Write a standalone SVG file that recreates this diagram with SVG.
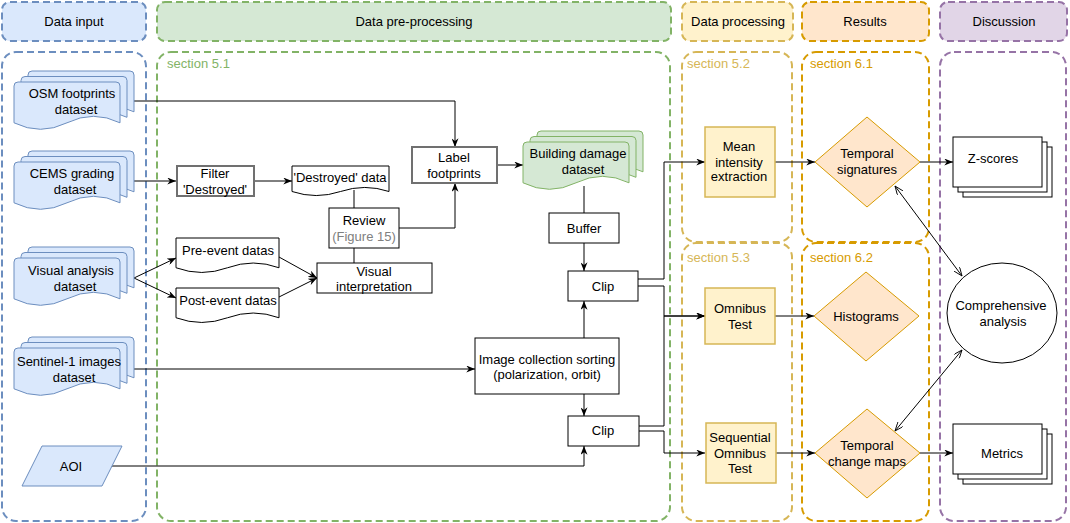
<svg xmlns="http://www.w3.org/2000/svg" xmlns:xlink="http://www.w3.org/1999/xlink" width="1070" height="523" viewBox="0 0 1070 523">
<style>
text{font-family:"Liberation Sans",Arial,sans-serif;font-size:13px;fill:#000;text-anchor:middle}
.sec{text-anchor:start}
.hdr{stroke-width:2;stroke-dasharray:7 4}
.cnt{fill:none;stroke-width:2;stroke-dasharray:7 4}
.box{fill:#fff;stroke:#000;stroke-width:1}
.gbox{fill:#fff;stroke:#707070;stroke-width:2}
.proc{fill:#fff2cc;stroke:#d6b656;stroke-width:1.5}
.dia{fill:#ffe6cc;stroke:#d79b00;stroke-width:1}
.blue{fill:#dae8fc;stroke:#6c8ebf;stroke-width:1}
.green{fill:#d5e8d4;stroke:#82b366;stroke-width:1}
.ln{fill:none;stroke:#000;stroke-width:1}
.arr{marker-end:url(#a)}
.bi{marker-start:url(#o);marker-end:url(#o)}
</style>
<defs>
<marker id="a" viewBox="0 0 10 8" refX="10" refY="4" markerWidth="9" markerHeight="7" markerUnits="userSpaceOnUse" orient="auto"><path d="M0,0 L10,4 L0,8 L3,4 Z" fill="#000"/></marker>
<marker id="o" viewBox="0 0 10 8" refX="10" refY="4" markerWidth="9" markerHeight="7" markerUnits="userSpaceOnUse" orient="auto-start-reverse"><path d="M0,0 L10,4 L0,8" fill="none" stroke="#000" stroke-width="1"/></marker>
<g id="mdoc">
<path d="M14,4 Q14,0 18,0 H116 Q120,0 120,4 V40.8 Q93.5,27.8 67,40.8 Q40.5,53.8 14,40.8 Z"/>
<path d="M7,9.5 Q7,5.5 11,5.5 H109 Q113,5.5 113,9.5 V46.3 Q86.5,33.3 60,46.3 Q33.5,59.3 7,46.3 Z"/>
<path d="M0,15 Q0,11 4,11 H102 Q106,11 106,15 V51.8 Q79.5,38.8 53,51.8 Q26.5,64.8 0,51.8 Z"/>
</g>
<g id="stack">
<rect x="10" y="10" width="89" height="50"/>
<rect x="5" y="5" width="89" height="50"/>
<rect x="0" y="0" width="89" height="50"/>
</g>
</defs>

<g id="headers">
<rect x="2" y="2" width="144" height="39" rx="8" class="hdr" fill="#dae8fc" stroke="#6c8ebf"/>
<text x="74" y="26">Data input</text>
<rect x="157" y="2" width="514" height="39" rx="8" class="hdr" fill="#d5e8d4" stroke="#82b366"/>
<text x="414" y="26">Data pre-processing</text>
<rect x="682" y="2" width="111" height="39" rx="8" class="hdr" fill="#fff2cc" stroke="#d6b656"/>
<text x="738" y="26">Data processing</text>
<rect x="802" y="2" width="127" height="39" rx="8" class="hdr" fill="#ffe6cc" stroke="#d79b00"/>
<text x="865" y="26">Results</text>
<rect x="940" y="2" width="127" height="39" rx="8" class="hdr" fill="#e1d5e7" stroke="#9673a6"/>
<text x="1004" y="26">Discussion</text>
</g>

<g id="containers">
<rect x="2" y="52" width="144" height="469" rx="14" class="cnt" stroke="#6c8ebf"/>
<rect x="157" y="52" width="513" height="469" rx="14" class="cnt" stroke="#82b366"/>
<text x="167" y="68" class="sec" style="fill:#82b366">section 5.1</text>
<rect x="682" y="52" width="110" height="190" rx="14" class="cnt" stroke="#d6b656"/>
<text x="687" y="68" class="sec" style="fill:#d6b656">section 5.2</text>
<rect x="682" y="243" width="110" height="278" rx="14" class="cnt" stroke="#d6b656"/>
<text x="687" y="262" class="sec" style="fill:#d6b656">section 5.3</text>
<rect x="802" y="52" width="127" height="190" rx="14" class="cnt" stroke="#d79b00"/>
<text x="810" y="68" class="sec" style="fill:#d79b00">section 6.1</text>
<rect x="802" y="243" width="127" height="278" rx="14" class="cnt" stroke="#d79b00"/>
<text x="810" y="262" class="sec" style="fill:#d79b00">section 6.2</text>
<rect x="940" y="52" width="126" height="469" rx="14" class="cnt" stroke="#9673a6"/>
</g>

<g id="connectors">
<path class="ln arr" d="M134,101 H455 V147"/>
<path class="ln arr" d="M134,181 H176"/>
<path class="ln arr" d="M254,181 H292"/>
<path class="ln" d="M354,190 V208"/>
<path class="ln" d="M354,248 V263"/>
<path class="ln arr" d="M399,228 H455 V183"/>
<path class="ln arr" d="M134,278 L176,258"/>
<path class="ln arr" d="M134,278 L176,298"/>
<path class="ln arr" d="M279,257 L317,278"/>
<path class="ln arr" d="M279,297 L317,278"/>
<path class="ln arr" d="M497,165 H523"/>
<path class="ln" d="M584,186 V213"/>
<path class="ln arr" d="M584,243 V271"/>
<path class="ln arr" d="M584,338 V301"/>
<path class="ln arr" d="M584,394 V416"/>
<path class="ln arr" d="M134,369 H475"/>
<path class="ln arr" d="M111,466 H584 V446"/>
<path class="ln arr" d="M638,279 H664 V162 H705"/>
<path class="ln arr" d="M638,286 H664 V316 H705"/>
<path class="ln arr" d="M639,426 H664 V316 H705"/>
<path class="ln arr" d="M639,431 H664 V453 H705"/>
<path class="ln arr" d="M775,162 H815"/>
<path class="ln arr" d="M775,316 H814"/>
<path class="ln arr" d="M776,453 H815"/>
<path class="ln arr" d="M920,162 H953"/>
<path class="ln arr" d="M920,453 H953"/>
<path class="ln bi" d="M895,186 L962,276"/>
<path class="ln bi" d="M962,350 L895,431"/>
</g>

<g id="osm"><use xlink:href="#mdoc" href="#mdoc" class="blue" transform="translate(14,71)"/><text x="72" y="98">OSM footprints</text><text x="76" y="114">dataset</text></g>
<g id="cems"><use xlink:href="#mdoc" href="#mdoc" class="blue" transform="translate(14,151)"/><text x="72" y="178">CEMS grading</text><text x="75" y="194">dataset</text></g>
<g id="visual"><use xlink:href="#mdoc" href="#mdoc" class="blue" transform="translate(14,247)"/><text x="71" y="275">Visual analysis</text><text x="75" y="291">dataset</text></g>
<g id="sentinel"><use xlink:href="#mdoc" href="#mdoc" class="blue" transform="translate(14,337)"/><text x="69" y="366">Sentinel-1 images</text><text x="74" y="382">dataset</text></g>
<g id="aoi"><polygon points="42,446 122,446 102,486 22,486" class="blue"/><text x="71" y="471">AOI</text></g>

<g id="filter"><rect x="177" y="166" width="77" height="30" class="gbox"/><text x="215" y="178">Filter</text><text x="215" y="194">'Destroyed'</text></g>
<g id="destroyed"><path d="M292,166 H389 V191.5 Q364.75,183.4 340.5,191.5 Q316.25,199.6 292,191.5 Z" class="box"/><text x="340" y="182">'Destroyed' data</text></g>
<g id="review"><rect x="329" y="208" width="70" height="40" class="box"/><text x="364" y="225">Review</text><text x="364" y="241" style="fill:#808080">(Figure 15)</text></g>
<g id="vi"><rect x="317" y="263" width="115" height="30" class="box"/><text x="374" y="276">Visual</text><text x="374" y="291">interpretation</text></g>
<g id="pre"><path d="M176,238 H279 V267.75 Q253.25,258.3 227.5,267.75 Q201.75,277.2 176,267.75 Z" class="box"/><text x="228" y="255">Pre-event datas</text></g>
<g id="post"><path d="M176,288 H279 V317.75 Q253.25,308.3 227.5,317.75 Q201.75,327.2 176,317.75 Z" class="box"/><text x="228" y="305">Post-event datas</text></g>
<g id="label"><rect x="412" y="147" width="85" height="36" class="gbox"/><text x="454" y="162">Label</text><text x="454" y="178">footprints</text></g>
<g id="building"><use xlink:href="#mdoc" href="#mdoc" class="green" transform="translate(523,131)"/><text x="578" y="158">Building damage</text><text x="583" y="174">dataset</text></g>
<g id="buffer"><rect x="549" y="213" width="70" height="30" class="box"/><text x="584" y="233">Buffer</text></g>
<g id="clip1"><rect x="568" y="271" width="70" height="30" class="box"/><text x="603" y="291">Clip</text></g>
<g id="ics"><rect x="475" y="338" width="144" height="56" class="box"/><text x="547" y="364">Image collection sorting</text><text x="547" y="379">(polarization, orbit)</text></g>
<g id="clip2"><rect x="568" y="416" width="71" height="30" class="box"/><text x="603" y="435">Clip</text></g>

<g id="mean"><rect x="705" y="127" width="70" height="70" class="proc"/><text x="739" y="151">Mean</text><text x="739" y="167">intensity</text><text x="739" y="181">extraction</text></g>
<g id="omnibus"><rect x="705" y="288" width="70" height="56" class="proc"/><text x="740" y="313">Omnibus</text><text x="740" y="329">Test</text></g>
<g id="seq"><rect x="706" y="423" width="70" height="60" class="proc"/><text x="740" y="442">Sequential</text><text x="740" y="458">Omnibus</text><text x="740" y="473">Test</text></g>

<g id="tsig"><polygon points="867,117 920,162 867,207 815,162" class="dia"/><text x="867" y="158">Temporal</text><text x="867" y="174">signatures</text></g>
<g id="hist"><polygon points="866,272 919,316 866,361 814,316" class="dia"/><text x="866" y="321">Histograms</text></g>
<g id="tcm"><polygon points="867,409 920,453 867,498 815,453" class="dia"/><text x="867" y="450">Temporal</text><text x="867" y="466">change maps</text></g>

<g id="zscores"><use xlink:href="#stack" href="#stack" class="box" transform="translate(953,137)"/><text x="993" y="163">Z-scores</text></g>
<g id="comp"><ellipse cx="1002" cy="313" rx="55" ry="50" class="box"/><text x="1001" y="310">Comprehensive</text><text x="1003" y="326">analysis</text></g>
<g id="metrics"><use xlink:href="#stack" href="#stack" class="box" transform="translate(953,424)"/><text x="1002" y="458">Metrics</text></g>
</svg>
